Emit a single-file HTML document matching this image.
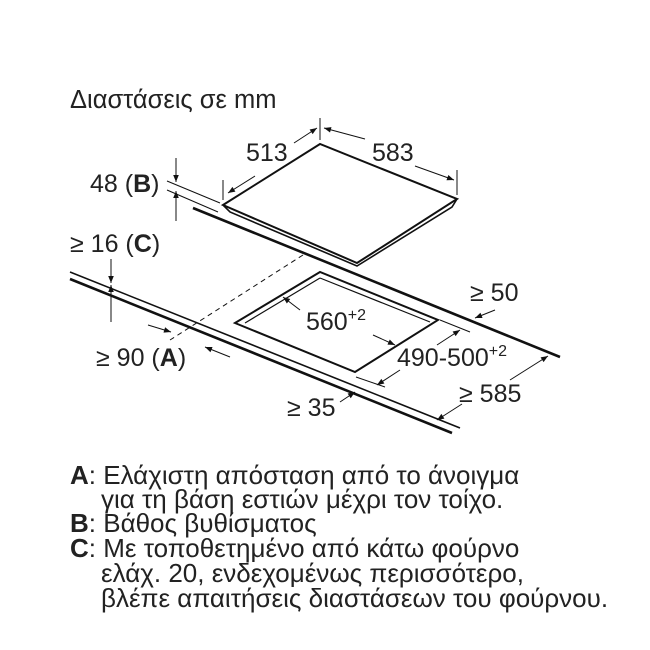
<!DOCTYPE html>
<html><head><meta charset="utf-8"><style>
body{margin:0;background:#fff;}
svg{display:block;font-family:"Liberation Sans",Arial,sans-serif;}
</style></head><body>
<svg width="650" height="650" viewBox="0 0 650 650">
<defs>
<marker id="a" viewBox="0 0 10 10" refX="10" refY="5" markerWidth="9" markerHeight="7" orient="auto-start-reverse"><path d="M0,1 L10,5 L0,9 z" fill="#111"/></marker>
</defs>
<g fill="#222">
<text x="70" y="108" font-size="25.5">Διαστάσεις σε mm</text>
</g>
<g stroke="#111" fill="none">
<path d="M223,205 L320,144 L457,199 L357,263 Z" stroke-width="2" fill="#fff"/>
<path d="M223,205 L230,212 L357,266 L452,207 L457,199" stroke-width="1.6"/>
<path d="M193,208 L560,357" stroke-width="2.6"/>
<path d="M70,272 L460,428" stroke-width="1.6"/>
<path d="M70,279 L452,433" stroke-width="2.6"/>
<path d="M320,272 L235,323 L355,372 L438,320 Z" stroke-width="2"/>
<path d="M320,278 L245,323 M320,278 L430,322" stroke-width="1.2"/>
<path d="M303,255 L170,340" stroke-width="1" stroke-dasharray="5,4"/>
<path d="M223,200 L223,180" stroke-width="1"/>
<path d="M320,140 L320,118" stroke-width="1"/>
<path d="M255,176 L228,193" stroke-width="1" marker-end="url(#a)"/>
<path d="M294,143 L317,128" stroke-width="1" marker-end="url(#a)"/>
<path d="M365,139 L324,128" stroke-width="1" marker-end="url(#a)"/>
<path d="M415,166 L454,180" stroke-width="1" marker-end="url(#a)"/>
<path d="M457,195 L457,170" stroke-width="1"/>
<path d="M167,181 L220,203 M167,190 L218,212" stroke-width="1"/>
<path d="M176,158 L176,182" stroke-width="1" marker-end="url(#a)"/>
<path d="M176,221 L176,191" stroke-width="1" marker-end="url(#a)"/>
<path d="M111,259 L111,283" stroke-width="1" marker-end="url(#a)"/>
<path d="M111,322 L111,285" stroke-width="1" marker-end="url(#a)"/>
<path d="M148,325 L171,332" stroke-width="1" marker-end="url(#a)"/>
<path d="M230,357 L205,347" stroke-width="1" marker-end="url(#a)"/>
<path d="M300,310 L283,297" stroke-width="1" marker-end="url(#a)"/>
<path d="M373,335 L395,345" stroke-width="1" marker-end="url(#a)"/>
<path d="M440,320 L470,332 M356,377 L385,387" stroke-width="1"/>
<path d="M437,345 L460,330" stroke-width="1" marker-end="url(#a)"/>
<path d="M400,370 L377,385" stroke-width="1" marker-end="url(#a)"/>
<path d="M495,310 L475,318" stroke-width="1" marker-end="url(#a)"/>
<path d="M510,380 L548,356" stroke-width="1" marker-end="url(#a)"/>
<path d="M462,404 L437,420" stroke-width="1" marker-end="url(#a)"/>
<path d="M340,402 L355,392" stroke-width="1" marker-end="url(#a)"/>
</g>
<g fill="#222" font-size="25">
<text x="246" y="161">513</text>
<text x="372" y="161">583</text>
<text x="90" y="192">48 (<tspan font-weight="bold">B</tspan>)</text>
<text x="70" y="252">≥ 16 (<tspan font-weight="bold">C</tspan>)</text>
<text x="96" y="366">≥ 90 (<tspan font-weight="bold">A</tspan>)</text>
<text x="306" y="330">560<tspan font-size="16" dy="-10">+2</tspan></text>
<text x="397" y="366">490-500<tspan font-size="16" dy="-10">+2</tspan></text>
<text x="470" y="301">≥ 50</text>
<text x="459" y="402">≥ 585</text>
<text x="287" y="416">≥ 35</text>
</g>
<g fill="#222" font-size="26">
<text x="70" y="484"><tspan font-weight="bold">A</tspan>: Ελάχιστη απόσταση από το άνοιγμα</text>
<text x="101" y="508">για τη βάση εστιών μέχρι τον τοίχο.</text>
<text x="70" y="532"><tspan font-weight="bold">B</tspan>: Βάθος βυθίσματος</text>
<text x="70" y="557"><tspan font-weight="bold">C</tspan>: Με τοποθετημένο από κάτω φούρνο</text>
<text x="101" y="582">ελάχ. 20, ενδεχομένως περισσότερο,</text>
<text x="101" y="607">βλέπε απαιτήσεις διαστάσεων του φούρνου.</text>
</g>
</svg>
</body></html>
